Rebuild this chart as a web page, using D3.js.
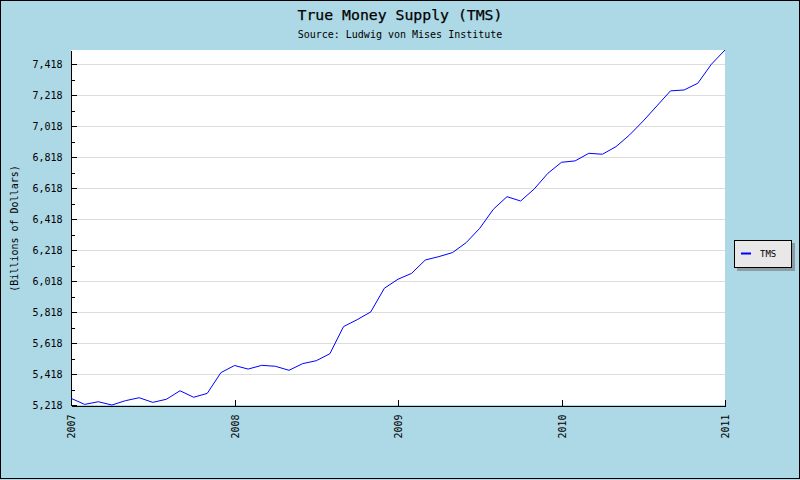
<!DOCTYPE html>
<html>
<head>
<meta charset="utf-8">
<script src="https://cdn.jsdelivr.net/npm/d3@7"></script>
<style>
  html, body { margin: 0; padding: 0; background: #add8e6; }
  svg { display: block; }
  text { font-family: "DejaVu Sans Mono", monospace; fill: #000; }
</style>
</head>
<body>
<svg id="chart" width="800" height="480"></svg>
<script>
// ---- data ----
const months = [
  "2007-01","2007-02","2007-03","2007-04","2007-05","2007-06","2007-07","2007-08","2007-09","2007-10","2007-11","2007-12",
  "2008-01","2008-02","2008-03","2008-04","2008-05","2008-06","2008-07","2008-08","2008-09","2008-10","2008-11","2008-12",
  "2009-01","2009-02","2009-03","2009-04","2009-05","2009-06","2009-07","2009-08","2009-09","2009-10","2009-11","2009-12",
  "2010-01","2010-02","2010-03","2010-04","2010-05","2010-06","2010-07","2010-08","2010-09","2010-10","2010-11","2010-12",
  "2011-01"
];
const tms = [
  5261, 5222, 5239, 5218, 5246, 5265, 5235, 5255, 5310, 5268, 5293, 5427,
  5473, 5450, 5474, 5468, 5442, 5485, 5504, 5549, 5724, 5769, 5819, 5972,
  6030, 6068, 6154, 6176, 6202, 6266, 6359, 6482, 6563, 6535, 6613, 6714,
  6785, 6794, 6843, 6837, 6886, 6962, 7052, 7149, 7246, 7252, 7295, 7418,
  7510
];
const yearTicks = [2007, 2008, 2009, 2010, 2011];
const yTickValues = [5218, 5418, 5618, 5818, 6018, 6218, 6418, 6618, 6818, 7018, 7218, 7418];
const yMinorValues = [5318, 5518, 5718, 5918, 6118, 6318, 6518, 6718, 6918, 7118, 7318];
const seriesName = "TMS";
const titleText = "True Money Supply (TMS)";
const subtitleText = "Source: Ludwig von Mises Institute";
const yAxisTitle = "(Billions of Dollars)";

// ---- layout ----
const W = 800, H = 480;
const plot = { left: 71, right: 725, top: 50, bottom: 405 };

const svg = d3.select("#chart");

// background + border
svg.append("rect").attr("x", 0).attr("y", 0).attr("width", W).attr("height", H).attr("fill", "#add8e6");
svg.append("rect").attr("x", 0.5).attr("y", 0.5).attr("width", W - 1).attr("height", H - 2)
  .attr("fill", "none").attr("stroke", "#000").attr("stroke-width", 1);

// plot area
svg.append("rect").attr("x", plot.left).attr("y", plot.top)
  .attr("width", plot.right - plot.left).attr("height", plot.bottom - plot.top).attr("fill", "#fff");

const toYear = m => { const [y, mo] = m.split("-").map(Number); return y + (mo - 1) / 12; };
const data = months.map((m, i) => ({ t: toYear(m), v: tms[i] }));

const x = d3.scaleLinear().domain([2007, 2011]).range([plot.left, plot.right]);
const y = d3.scaleLinear().domain([d3.min(tms), d3.max(tms)]).range([plot.bottom, plot.top]);

// gridlines
svg.append("g").selectAll("line").data(yTickValues.slice(1)).join("line")
  .attr("x1", plot.left).attr("x2", plot.right)
  .attr("y1", d => Math.round(y(d)) + 0.5).attr("y2", d => Math.round(y(d)) + 0.5)
  .attr("stroke", "#dcdcdc").attr("stroke-width", 1);

// y minor ticks
const yMinor = d3.axisLeft(y).tickValues(yMinorValues).tickSizeInner(-4).tickSizeOuter(0).tickFormat("");
svg.append("g").attr("transform", `translate(${plot.left - 0.5},0)`).call(yMinor)
  .call(g => g.select(".domain").remove())
  .call(g => g.selectAll("line").attr("stroke", "#000").attr("shape-rendering", "crispEdges"));

// y axis
const yAxis = d3.axisLeft(y).tickValues(yTickValues).tickSizeInner(-6).tickSizeOuter(0)
  .tickPadding(8).tickFormat(d3.format(","));
svg.append("g").attr("transform", `translate(${plot.left - 0.5},0)`).call(yAxis)
  .call(g => g.select(".domain").attr("stroke", "#000").attr("shape-rendering", "crispEdges"))
  .call(g => g.selectAll("line").attr("stroke", "#000").attr("shape-rendering", "crispEdges"))
  .call(g => g.selectAll("text").attr("font-family", "DejaVu Sans Mono").attr("font-size", 10).attr("fill", "#000"));

// x axis
const xAxis = d3.axisBottom(x).tickValues(yearTicks).tickSizeInner(-6).tickSizeOuter(0)
  .tickFormat(d3.format("d"));
svg.append("g").attr("transform", `translate(0,${plot.bottom + 0.5})`).call(xAxis)
  .call(g => g.select(".domain").attr("stroke", "#000").attr("shape-rendering", "crispEdges"))
  .call(g => g.selectAll("line").attr("stroke", "#000").attr("shape-rendering", "crispEdges"))
  .call(g => g.selectAll("text")
    .attr("font-family", "DejaVu Sans Mono").attr("font-size", 10).attr("fill", "#000")
    .attr("transform", "rotate(-90)")
    .attr("text-anchor", "end").attr("x", -9).attr("y", 0).attr("dy", "0.35em"));

// line
const line = d3.line().x(d => x(d.t)).y(d => y(d.v));
svg.append("path").datum(data).attr("d", line)
  .attr("fill", "none").attr("stroke", "#0000ff").attr("stroke-width", 1);

// titles
svg.append("text").attr("x", 400).attr("y", 20).attr("text-anchor", "middle")
  .attr("font-size", 14.8).attr("stroke", "#000").attr("stroke-width", 0.25).text(titleText);
svg.append("text").attr("x", 400).attr("y", 38).attr("text-anchor", "middle")
  .attr("font-size", 10).text(subtitleText);
svg.append("text").attr("transform", `translate(18,${(plot.top + plot.bottom) / 2 + 1}) rotate(-90)`)
  .attr("text-anchor", "middle").attr("font-size", 10).text(yAxisTitle);

// legend
const lg = svg.append("g").attr("transform", "translate(734,240)");
lg.append("rect").attr("x", 3).attr("y", 3).attr("width", 58).attr("height", 28).attr("fill", "#8c9ca3");
lg.append("rect").attr("x", 0.5).attr("y", 0.5).attr("width", 57).attr("height", 27)
  .attr("fill", "#e8e8e8").attr("stroke", "#000").attr("stroke-width", 1);
lg.append("line").attr("x1", 7).attr("x2", 17).attr("y1", 13.5).attr("y2", 13.5)
  .attr("stroke", "#0000ff").attr("stroke-width", 2);
lg.append("text").attr("x", 26).attr("y", 17).attr("font-size", 9).text(seriesName);
</script>
</body>
</html>
